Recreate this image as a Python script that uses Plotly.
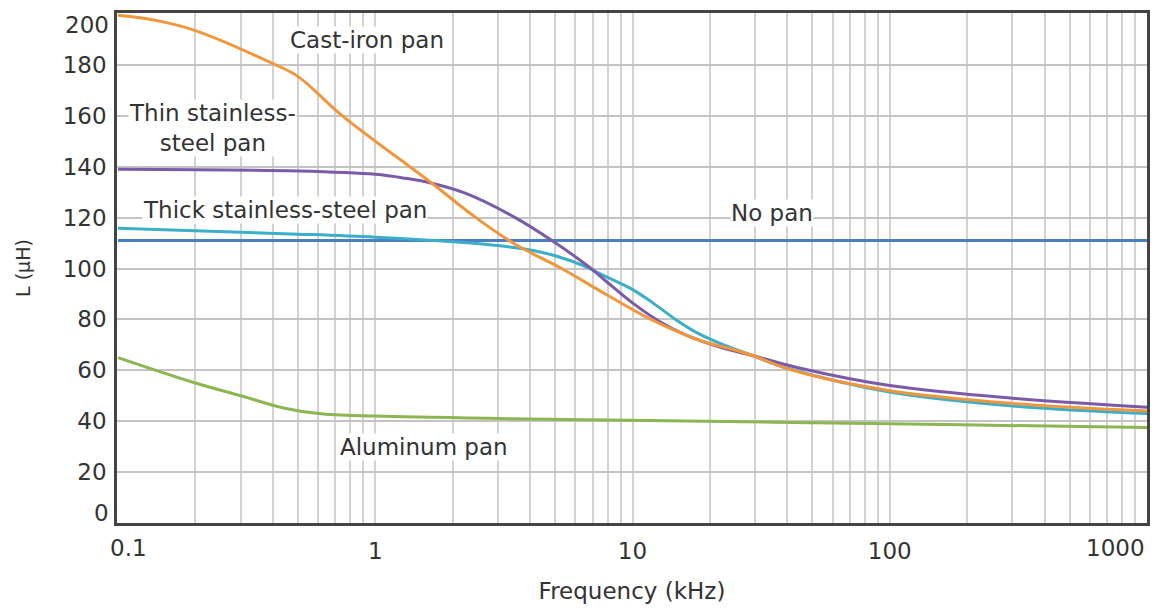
import numpy as np
import plotly.graph_objects as go

# ---------------- data ----------------
cast_f = [0.1, 0.14, 0.2, 0.4, 0.5, 0.745, 1.66, 2.46, 3.5, 5.3, 8, 11.8, 18, 28, 42, 100, 300, 1000]
cast_v = [199.5, 197.5, 193.5, 180.5, 175.5, 160, 133.5, 120, 109.5, 100, 89.5, 80, 72, 66.5, 60, 52, 47, 44]

thin_f = [0.1, 0.5, 1.0, 1.3, 1.66, 2.25, 3.5, 4.86, 6.8, 8, 10, 12.6, 16, 22, 30, 44, 100, 300, 1000]
thin_v = [139, 138.3, 137, 135.5, 133.5, 129.5, 120, 111, 100.5, 94.5, 86.5, 79.5, 74, 69, 65.5, 61, 54, 49, 45.5]

thick_f = [0.1, 0.5, 1.0, 2.0, 3.0, 4.06, 5.0, 6.3, 8, 9.9, 12, 14.7, 18, 22, 28, 41, 100, 300, 1000]
thick_v = [115.8, 113.5, 112.3, 110.5, 109, 107.2, 105, 101.5, 96.5, 92, 86.5, 80, 74.5, 70.5, 66.5, 60.5, 51.5, 46, 43]

nopan_f = [0.1, 1, 10, 100, 1000]
nopan_v = [111, 111, 111, 111, 111]

alu_f = [0.1, 0.2, 0.3, 0.44, 0.6, 1.0, 3.3, 8, 100, 745, 1000]
alu_v = [65, 55, 50, 45.2, 43, 42, 41, 40.5, 39, 37.7, 37.5]

x_major = [1, 10, 100]
x_major_text = ["1", "10", "100"]
x_minor = [m * d for d in [0.1, 1, 10, 100] for m in range(2, 10)]
y_ticks = [20, 40, 60, 80, 100, 120, 140, 160, 180]

# ---------------- styles ----------------
FONT = "DejaVu Sans"
TXT = "#333333"
C_CAST = "#F0963C"
C_THIN = "#7B5BA8"
C_THICK = "#3BAEC8"
C_NOPAN = "#4A7FC6"
C_ALU = "#8DB552"
LW = 3
FS = 23

fig = go.Figure()
series = [
    (nopan_f, nopan_v, C_NOPAN, "No pan"),
    (alu_f, alu_v, C_ALU, "Aluminum pan"),
    (thick_f, thick_v, C_THICK, "Thick stainless-steel pan"),
    (thin_f, thin_v, C_THIN, "Thin stainless-steel pan"),
    (cast_f, cast_v, C_CAST, "Cast-iron pan"),
]
for fx, fy, col, name in series:
    fig.add_trace(go.Scatter(x=fx, y=fy, mode="lines", name=name,
                             line=dict(color=col, width=LW, shape="spline", smoothing=1.0),
                             showlegend=False))

fig.update_layout(
    width=1155, height=610, autosize=False,
    margin=dict(l=117, r=5, t=13, b=87),
    paper_bgcolor="white", plot_bgcolor="white",
    font=dict(family=FONT, color=TXT, size=FS),
)
fig.update_xaxes(
    type="log", range=[np.log10(0.0991), np.log10(1000)],
    tickvals=x_major, ticktext=x_major_text, ticks="", ticklabelstandoff=6,
    tickfont=dict(size=FS, color=TXT),
    showgrid=True, gridcolor="#d2d2d2", gridwidth=2,
    minor=dict(tickvals=x_minor, showgrid=True, gridcolor="#d2d2d2", gridwidth=2, ticks=""),
    showline=True, linecolor="#444444", linewidth=2.5, mirror=True,
    zeroline=False,
    title=dict(text="Frequency (kHz)", font=dict(size=FS, color=TXT), standoff=20),
)
fig.update_yaxes(
    range=[0, 200.4], tickvals=y_ticks, ticks="", ticklabelstandoff=3,
    tickfont=dict(size=FS, color=TXT),
    showgrid=True, gridcolor="#c4c4c4", gridwidth=2,
    showline=True, linecolor="#444444", linewidth=2.5, mirror=True,
    zeroline=False,
    title=dict(text="L (μH)", font=dict(size=19, color=TXT), standoff=28),
)

# edge tick labels nudged inward as in the reference
edge = dict(showarrow=False, font=dict(size=FS, color=TXT))
fig.add_annotation(text="0", xref="paper", yref="y", x=0, y=0, xanchor="right", yanchor="middle",
                   xshift=-6, yshift=10, **edge)
fig.add_annotation(text="200", xref="paper", yref="y", x=0, y=200, xanchor="right", yanchor="middle",
                   xshift=-6, yshift=-11, **edge)
fig.add_annotation(text="0.1", xref="x", yref="paper", x=np.log10(0.1), y=0, xanchor="center", yanchor="middle",
                   xshift=10, yshift=-25, **edge)
fig.add_annotation(text="1000", xref="paper", yref="paper", x=1, y=0, xanchor="right", yanchor="middle",
                   yshift=-25, **edge)

# curve labels
lab = dict(showarrow=False, font=dict(size=FS, color=TXT), bgcolor="white", borderpad=0)
fig.add_annotation(text="Cast-iron pan", x=np.log10(0.93), y=189.8, **lab)
fig.add_annotation(text="Thin stainless-<br>steel pan", x=np.log10(0.233), y=155.3, align="center", **lab)
fig.add_annotation(text="Thick stainless-steel pan", x=np.log10(0.444), y=123, **lab)
fig.add_annotation(text="No pan", x=np.log10(34.9), y=121.9, **lab)
fig.add_annotation(text="Aluminum pan", x=np.log10(1.55), y=30, **lab)

fig.write_html("out.html")
